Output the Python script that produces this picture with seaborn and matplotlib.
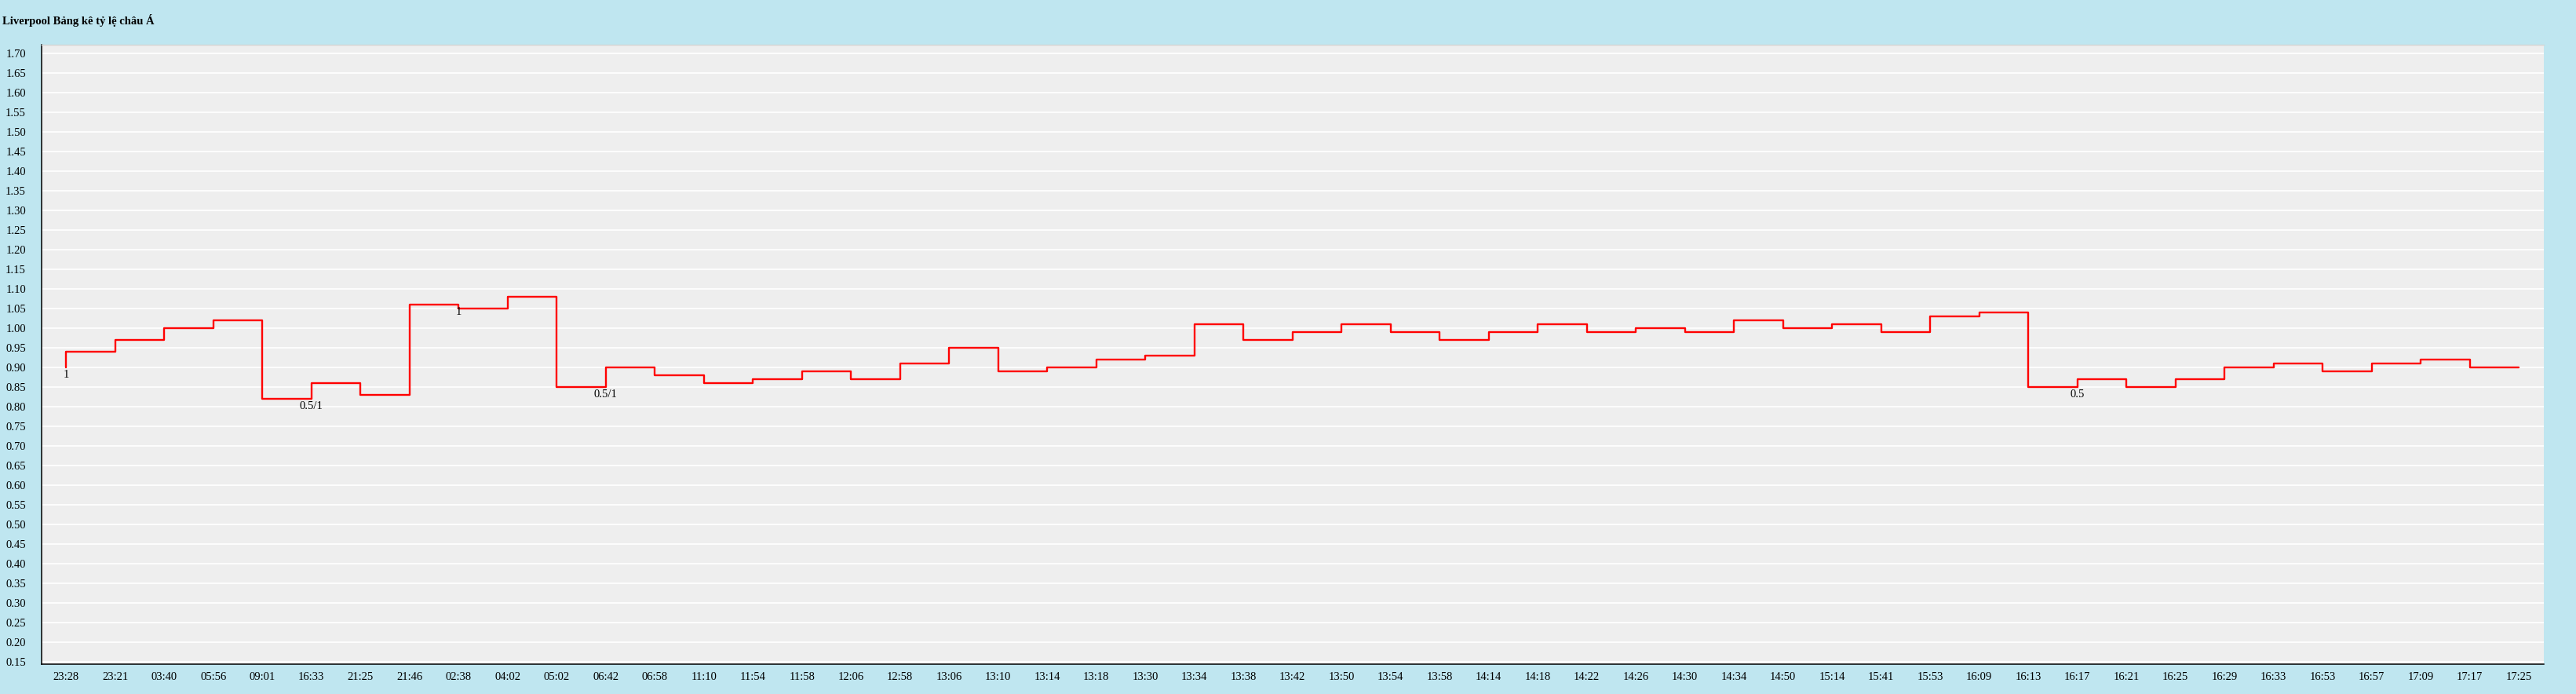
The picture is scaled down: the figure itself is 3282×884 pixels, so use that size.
import matplotlib
matplotlib.use("Agg")
import matplotlib.pyplot as plt
import numpy as np
import pandas as pd
import seaborn as sns

TITLE = "Liverpool Bảng kê tỷ lệ châu Á"

TIMES = [
    "23:28", "23:21", "03:40", "05:56", "09:01", "16:33", "21:25", "21:46", "02:38", "04:02",
    "05:02", "06:42", "06:58", "11:10", "11:54", "11:58", "12:06", "12:58", "13:06", "13:10",
    "13:14", "13:18", "13:30", "13:34", "13:38", "13:42", "13:50", "13:54", "13:58", "14:14",
    "14:18", "14:22", "14:26", "14:30", "14:34", "14:50", "15:14", "15:41", "15:53", "16:09",
    "16:13", "16:17", "16:21", "16:25", "16:29", "16:33", "16:53", "16:57", "17:09", "17:17",
    "17:25",
]

# odds value at each time point (step drawn "pre": value holds up to its own time)
ODDS = [
    0.90, 0.94, 0.97, 1.00, 1.02, 0.82, 0.86, 0.83, 1.06, 1.05,
    1.08, 0.85, 0.90, 0.88, 0.86, 0.87, 0.89, 0.87, 0.91, 0.95,
    0.89, 0.90, 0.92, 0.93, 1.01, 0.97, 0.99, 1.01, 0.99, 0.97,
    0.99, 1.01, 0.99, 1.00, 0.99, 1.02, 1.00, 1.01, 0.99, 1.03,
    1.04, 0.85, 0.87, 0.85, 0.87, 0.90, 0.91, 0.89, 0.91, 0.92,
    0.90,
]

# handicap line labels shown under the line where the handicap changed
HANDICAP_IDX = [0, 5, 8, 11, 41]
HANDICAP_TXT = ["1", "0.5/1", "1", "0.5/1", "0.5"]

OUTER_BG = "#bfe6f0"
PLOT_BG = "#eeeeee"
W, H, DPI = 3282, 884, 100

sns.set_theme(style="white")
plt.rcParams["font.family"] = ["Liberation Serif", "DejaVu Serif"]
plt.rcParams["font.size"] = 10.5

df = pd.DataFrame({"pos": range(len(TIMES)), "odds": ODDS})

fig = plt.figure(figsize=(W / DPI, H / DPI), dpi=DPI, facecolor=OUTER_BG)
ax = fig.add_axes([53 / W, 38 / H, 3187.5 / W, 789 / H])
ax.set_facecolor(PLOT_BG)

sns.lineplot(data=df, x="pos", y="odds", ax=ax, color="#ff0000", linewidth=1.7,
             drawstyle="steps-pre", estimator=None, sort=False)

for idx, txt in zip(HANDICAP_IDX, HANDICAP_TXT):
    ax.annotate(txt, (idx, ODDS[idx]), xytext=(0, -2.5), textcoords="offset points",
                ha="center", va="top", fontsize=10.5, color="black")

ax.set_xlim(-0.5, 50.5)
ax.set_ylim(0.144, 1.722)
yticks = np.round(np.arange(0.15, 1.7001, 0.05), 2)
ax.set_yticks(yticks)
ax.set_yticklabels([f"{v:.2f}" for v in yticks])
ax.set_xticks(df["pos"])
ax.set_xticklabels(TIMES)

ax.grid(axis="y", color="white", linewidth=1.2)
ax.grid(axis="x", visible=False)
ax.set_axisbelow(True)

ax.tick_params(axis="y", direction="inout", length=5.8, width=1.0, pad=11.5,
               labelsize=10.5, colors="black")
ax.tick_params(axis="x", direction="inout", length=5.8, width=1.0, pad=4.3,
               labelsize=10.5, colors="black")
for i, tick in enumerate(ax.xaxis.get_major_ticks()):
    tick.tick1line.set_markeredgewidth(2.0 if i % 2 else 0.9)

ax.set_xlabel("")
ax.set_ylabel("")
for side in ("left", "bottom"):
    ax.spines[side].set_color("black")
    ax.spines[side].set_linewidth(1.1)
ax.spines["right"].set_visible(False)
ax.spines["top"].set_color("#d4d4d4")
ax.spines["top"].set_linewidth(1.0)

fig.text(3 / W, 1 - 31 / H, TITLE, ha="left", va="baseline",
         fontsize=10.5, fontweight="bold", color="black")

fig.savefig("out.png", dpi=DPI, facecolor=OUTER_BG)
